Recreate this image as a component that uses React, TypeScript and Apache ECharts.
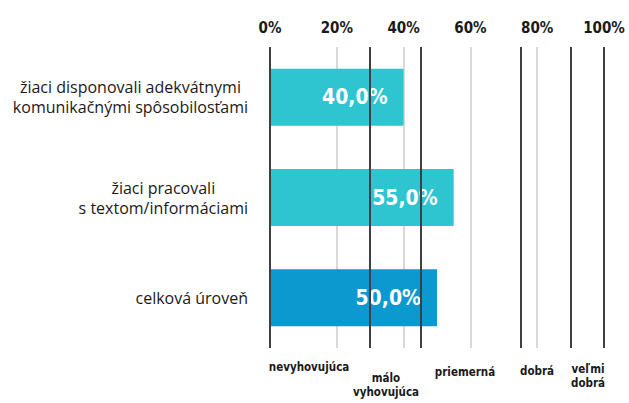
import React, { useEffect, useRef } from "react";
import * as echarts from "echarts";

const categories = [
  "žiaci disponovali adekvátnymi\nkomunikačnými spôsobilosťami",
  "žiaci pracovali\ns textom/informáciami",
  "celková úroveň",
];
const values = [40, 55, 50];
const barColors = ["#2EC5D1", "#2EC5D1", "#0C99D0"];
const thresholds = [0, 30, 45, 75, 90, 100];
const levelLabels = ["nevyhovujúca", "málo\nvyhovujúca", "priemerná", "dobrá", "veľmi\ndobrá"];
const levelPos = [
  [309, 367],
  [386, 385],
  [465, 372],
  [537, 371],
  [588, 376],
];

export default function App() {
  const ref = useRef<HTMLDivElement>(null);
  useEffect(() => {
    if (!ref.current) return;
    const chart = echarts.init(ref.current, undefined, { renderer: "svg" });
    chart.setOption({
      animation: false,
      backgroundColor: "#ffffff",
      grid: { left: 270, right: 25, top: 47, bottom: 55 },
      xAxis: {
        type: "value",
        position: "top",
        min: 0,
        max: 100,
        interval: 20,
        axisLine: { show: false },
        axisTick: { show: false },
        axisLabel: {
          formatter: "{value}%",
          fontFamily: "DejaVu Sans Condensed",
          fontWeight: "bold",
          fontSize: 15,
          color: "#1a1a1a",
          margin: 12,
        },
        splitLine: { show: true, lineStyle: { color: "#D9D9D9", width: 2 } },
      },
      yAxis: {
        type: "category",
        inverse: true,
        data: categories,
        axisLine: { show: false },
        axisTick: { show: false },
        axisLabel: {
          margin: 22,
          formatter: (v: string) =>
            v
              .split("\n")
              .map((l) => "{c|" + l + "}")
              .join("\n"),
          rich: {
            c: {
              align: "center",
              fontFamily: "Open Sans",
              fontSize: 16,
              lineHeight: 20,
              color: "#1a1a1a",
            },
          },
        },
      },
      series: [
        {
          type: "bar",
          barWidth: 57,
          data: values.map((v, i) => ({ value: v, itemStyle: { color: barColors[i] } })),
          label: {
            show: true,
            position: "insideRight",
            distance: 16,
            formatter: (p: any) => p.value.toFixed(1).replace(".", ",") + "%",
            color: "#ffffff",
            fontFamily: "DejaVu Sans Condensed",
            fontWeight: "bold",
            fontSize: 21,
          },
          markLine: {
            silent: true,
            symbol: "none",
            label: { show: false },
            lineStyle: { color: "#3F3F3F", width: 2, type: "solid" },
            data: thresholds.map((t) => ({ xAxis: t })),
          },
        },
      ],
      graphic: levelLabels.map((t, i) => ({
        type: "text",
        x: levelPos[i][0],
        y: levelPos[i][1],
        style: {
          text: t,
          align: "center",
          verticalAlign: "middle",
          fontFamily: "DejaVu Sans Condensed",
          fontWeight: "bold",
          fontSize: 11.5,
          lineHeight: 14,
          fill: "#1a1a1a",
        },
      })),
    });
    return () => chart.dispose();
  }, []);
  return (
    <div
      ref={ref}
      style={{ position: "absolute", left: 0, top: 0, width: 629, height: 403 }}
    />
  );
}
